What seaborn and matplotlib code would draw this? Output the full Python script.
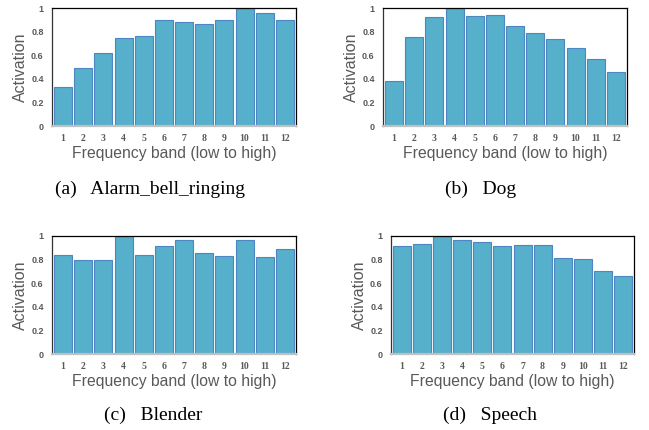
import pandas as pd
import numpy as np
import matplotlib
matplotlib.use("Agg")
import matplotlib.pyplot as plt
import seaborn as sns

bands = [str(i) for i in range(1, 13)]
alarm_bell = [0.33, 0.49, 0.62, 0.745, 0.765, 0.90, 0.885, 0.865, 0.895, 1.0, 0.955, 0.895]
dog = [0.385, 0.755, 0.92, 1.0, 0.935, 0.94, 0.845, 0.79, 0.74, 0.66, 0.57, 0.455]
blender = [0.835, 0.797, 0.80, 1.0, 0.835, 0.912, 0.962, 0.856, 0.83, 0.962, 0.822, 0.887]
speech = [0.915, 0.935, 1.0, 0.966, 0.946, 0.915, 0.927, 0.927, 0.811, 0.803, 0.70, 0.658]
captions = ["(a)   Alarm_bell_ringing", "(b)   Dog", "(c)   Blender", "(d)   Speech"]
yticks = [0, 0.2, 0.4, 0.6, 0.8, 1.0]
ytick_labels = ["0", "0.2", "0.4", "0.6", "0.8", "1"]

sns.set_style("white")
plt.rcParams["font.family"] = ["Liberation Sans", "DejaVu Sans"]

W, H = 649, 430
fig = plt.figure(figsize=(W / 100, H / 100), dpi=100)

# pixel boxes: left, top, right, bottom
boxes = [(52, 8, 296, 126), (383, 8, 627, 126), (52, 236, 296, 354), (391, 236, 634, 354)]
series = [alarm_bell, dog, blender, speech]
caption_pos = [(150, 189), (481, 189), (153, 415), (490, 415)]

bar_color = "#56afcb"
grey = "#595959"

for (l, t, r, b), vals, cap, (cx, cy) in zip(boxes, series, captions, caption_pos):
    ax = fig.add_axes([l / W, 1 - b / H, (r - l) / W, (b - t) / H])
    df = pd.DataFrame({"band": bands, "activation": vals})
    sns.barplot(data=df, x="band", y="activation", color=bar_color, width=0.9,
                edgecolor="#4d86c2", linewidth=0.8, saturation=1, ax=ax)
    ax.set_ylim(0, 1)
    ax.set_xlim(-0.55, 11.55)
    ax.set_yticks(yticks)
    ax.set_yticklabels(ytick_labels)
    ax.tick_params(axis="y", length=0, labelsize=6.5, labelcolor=grey, pad=6)
    ax.tick_params(axis="x", length=0, labelsize=7, labelcolor=grey, pad=6)
    for lab in ax.get_yticklabels():
        lab.set_fontweight("bold")
    for lab in ax.get_xticklabels():
        lab.set_fontweight("bold")
        lab.set_family(["Liberation Serif", "DejaVu Serif"])
    ax.set_xlabel("Frequency band (low to high)", fontsize=11.3, color=grey, labelpad=2)
    ax.set_ylabel("Activation", fontsize=11.5, color=grey, labelpad=2)
    for side in ["top", "right"]:
        ax.spines[side].set_color("black")
        ax.spines[side].set_linewidth(0.9)
    ax.spines["left"].set_color("#333333")
    ax.spines["left"].set_linewidth(0.9)
    ax.spines["bottom"].set_color("#c0c0c0")
    ax.spines["bottom"].set_linewidth(1.6)
    fig.text(cx / W, 1 - cy / H, cap, ha="center", va="center",
             fontsize=14, family=["Liberation Serif", "DejaVu Serif"], color="black")

fig.savefig("out.png", dpi=100)
